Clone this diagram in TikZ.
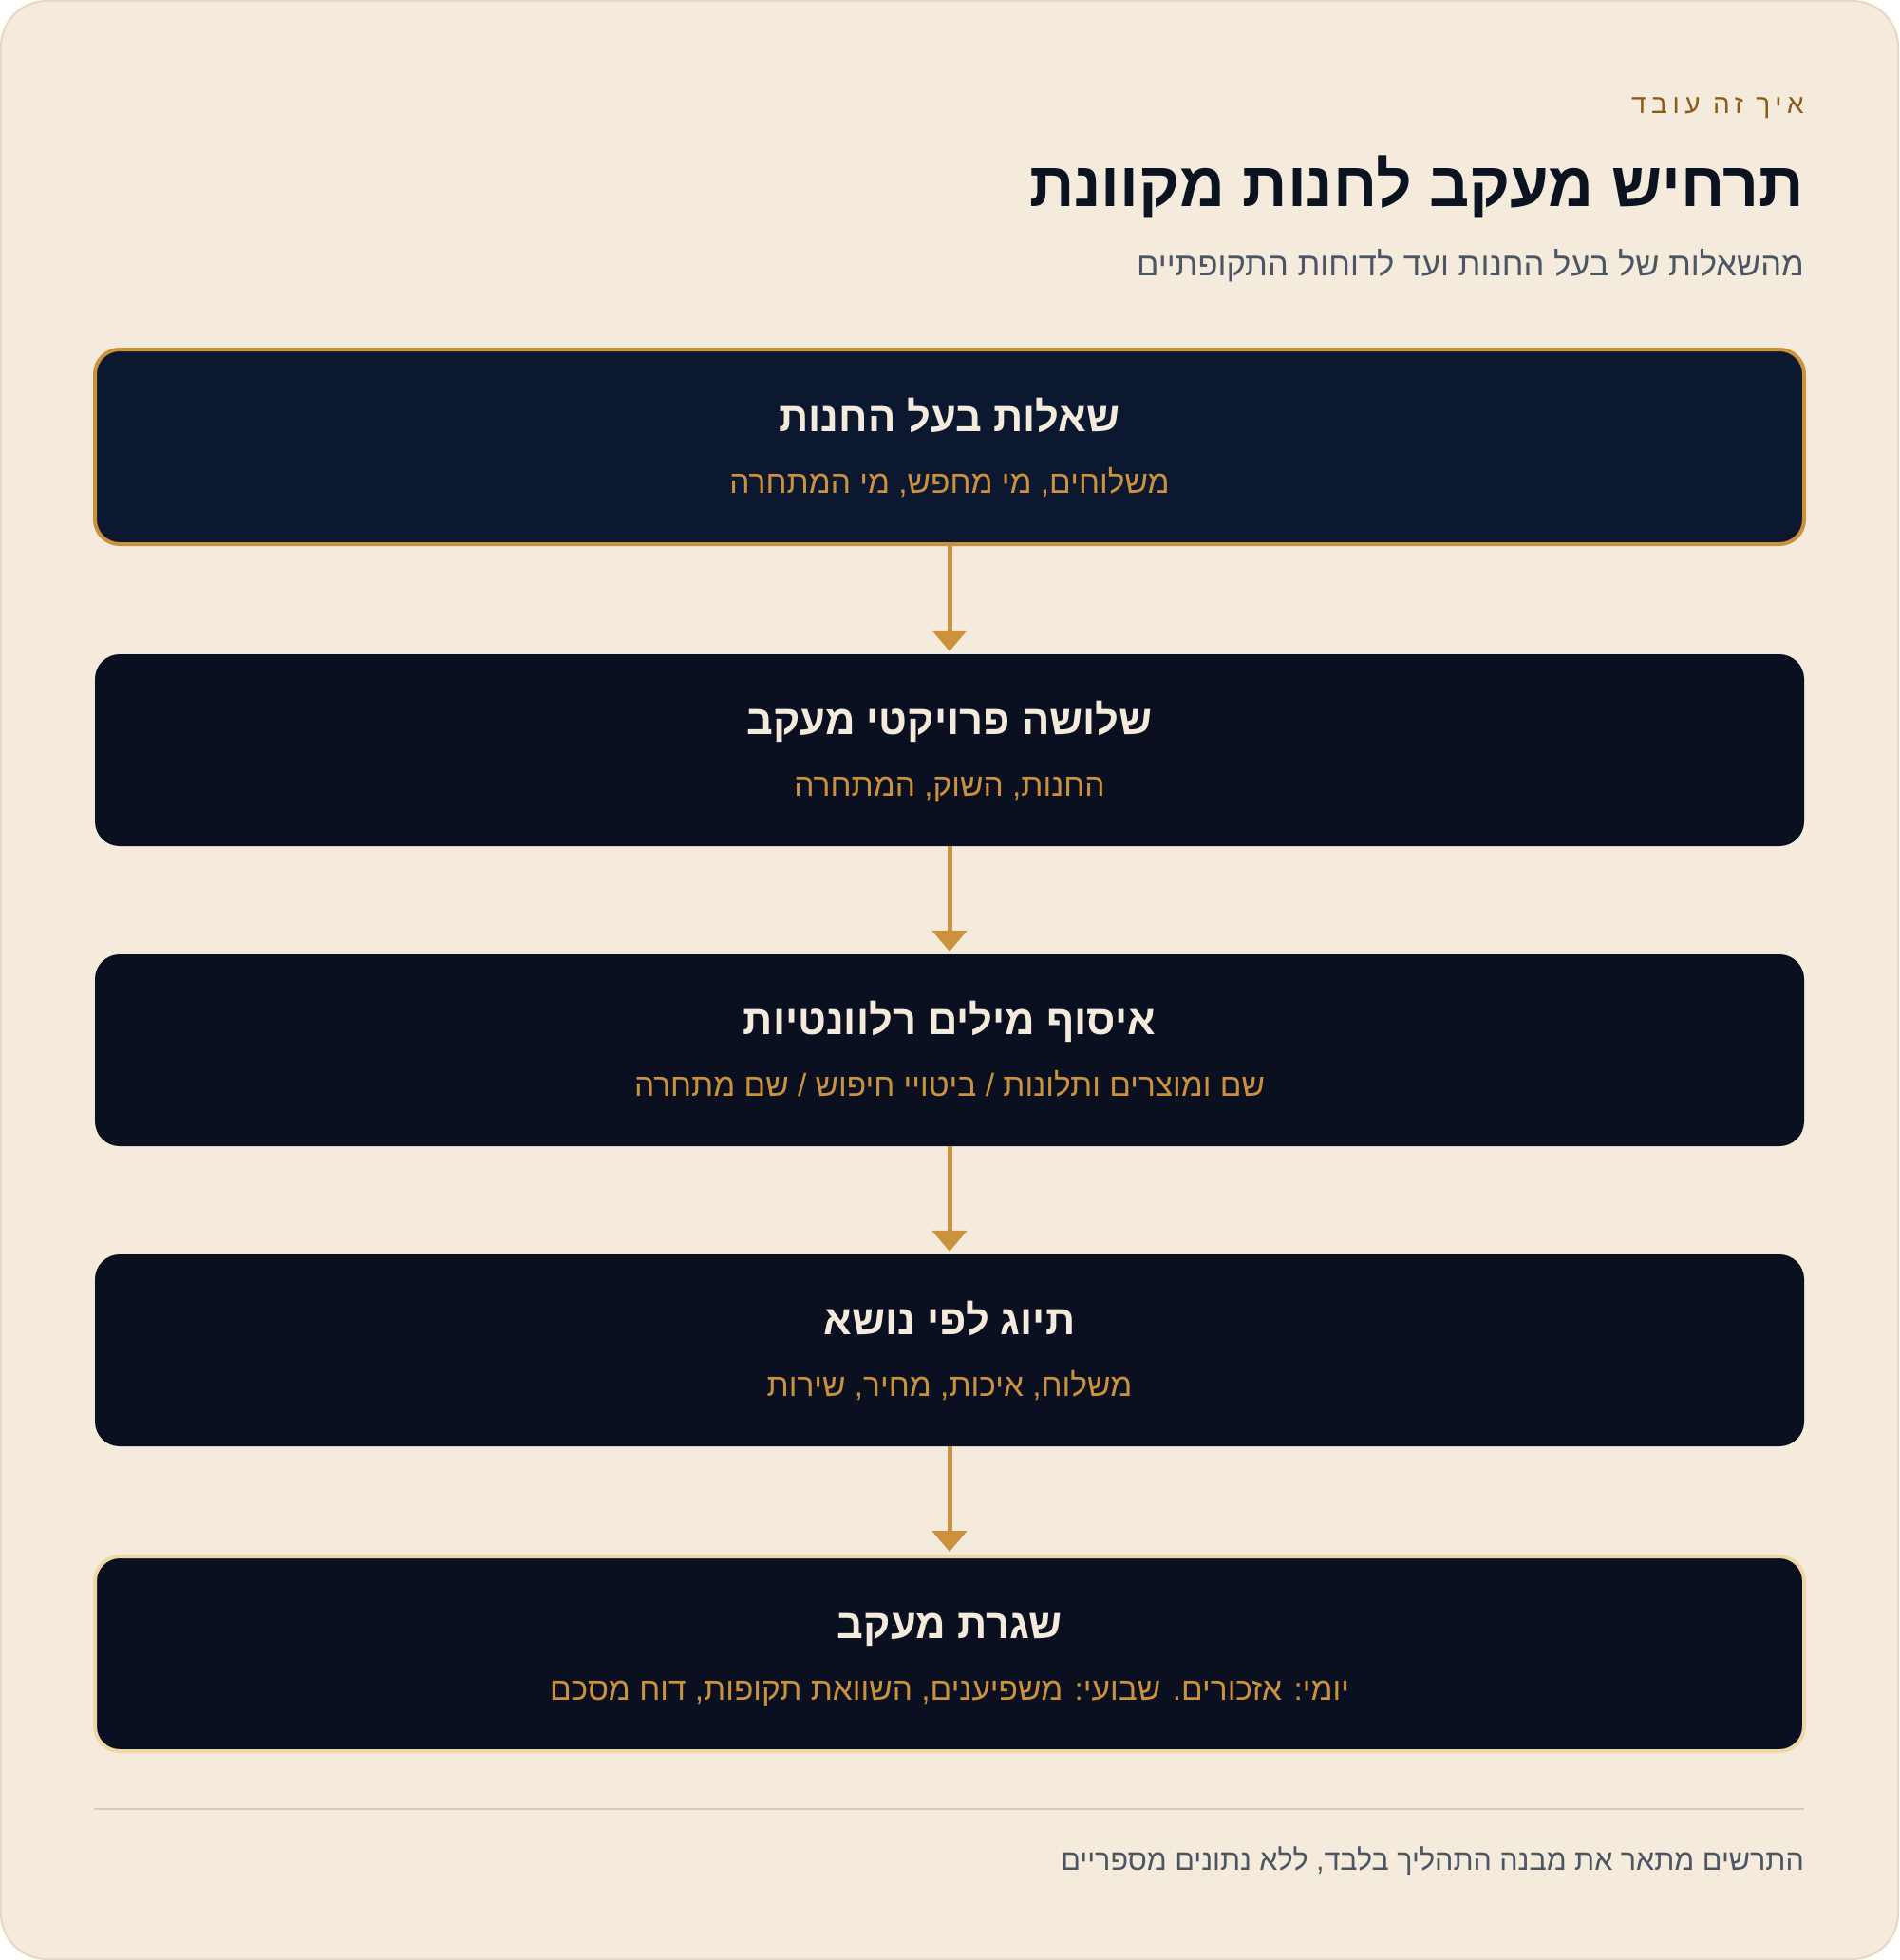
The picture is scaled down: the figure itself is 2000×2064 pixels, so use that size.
\documentclass[tikz,border=0pt]{standalone}
\usepackage{fontspec}
\setmainfont{Liberation Sans}
\TeXXeTstate=1
\newfontfamily\hebfont[Script=Hebrew]{Liberation Sans}
\newfontfamily\hebkick[Script=Hebrew,LetterSpace=20]{Liberation Sans}
\usetikzlibrary{arrows.meta}
\definecolor{pagebg}{HTML}{F4EBDC}
\definecolor{pageline}{HTML}{E6D9BF}
\definecolor{kickc}{HTML}{8B5A14}
\definecolor{titlec}{HTML}{0B1220}
\definecolor{grayc}{HTML}{4B5563}
\definecolor{navyA}{HTML}{0C1730}
\definecolor{navyB}{HTML}{0A1020}
\definecolor{goldc}{HTML}{CC913D}
\definecolor{creamc}{HTML}{F4EBDC}
\definecolor{paleg}{HTML}{F0D8A6}
\definecolor{sepc}{HTML}{D5CCBD}
\tikzset{
  stepbox/.style={draw=none, fill=navyB, rounded corners=26pt, minimum width=1800pt, minimum height=202pt, inner sep=0pt},
  btitle/.style={anchor=base, text=creamc, font=\hebfont\bfseries\fontsize{43.5}{52}\selectfont, inner sep=0pt},
  bsub/.style={anchor=base, text=goldc, font=\hebfont\fontsize{33.5}{40}\selectfont, inner sep=0pt},
  flow/.style={draw=goldc, line width=5pt, -{Triangle[length=22pt,width=36pt]}, shorten >=3pt},
}
\begin{document}
\begin{tikzpicture}[x=1pt,y=-1pt]
\useasboundingbox (0,0) rectangle (2000,2064);
\fill[white] (0,0) rectangle (2000,2064);
\draw[fill=pagebg, draw=pageline, line width=2pt, rounded corners=48pt] (1,1) rectangle (1999,2063);
% header
\node[anchor=base east, inner sep=0pt, text=kickc, font=\hebkick\fontsize{28}{32}\selectfont] (kick) at (1900,119) {\beginR איך זה עובד\endR};
\node[anchor=base east, inner sep=0pt, text=titlec, font=\hebfont\bfseries\fontsize{66}{76}\selectfont] (title) at (1900,217) {\beginR תרחיש מעקב לחנות מקוונת\endR};
\node[anchor=base east, inner sep=0pt, text=grayc, font=\hebfont\fontsize{34.5}{40}\selectfont] (sub) at (1900,290) {\beginR מהשאלות של בעל החנות ועד לדוחות התקופתיים\endR};
% boxes
\node[stepbox, fill=navyA, draw=goldc, line width=4pt, minimum height=205pt] (b1) at (1000,470.5) {};
\node[stepbox] (b2) at (1000,790) {};
\node[stepbox] (b3) at (1000,1106) {};
\node[stepbox] (b4) at (1000,1422) {};
\node[stepbox, draw=paleg, line width=4pt, minimum height=205pt] (b5) at (1000,1741.5) {};
% texts
\node[btitle] (b1t) at (1000,454) {\beginR שאלות בעל החנות\endR};
\node[bsub] (b1s) at (1000,519) {\beginR משלוחים, מי מחפש, מי המתחרה\endR};
\node[btitle] (b2t) at (1000,773) {\beginR שלושה פרויקטי מעקב\endR};
\node[bsub] (b2s) at (1000,838) {\beginR החנות, השוק, המתחרה\endR};
\node[btitle] (b3t) at (1000,1089) {\beginR איסוף מילים רלוונטיות\endR};
\node[bsub] (b3s) at (1000,1154) {\beginR שם ומוצרים ותלונות / ביטויי חיפוש / שם מתחרה\endR};
\node[btitle] (b4t) at (1000,1405) {\beginR תיוג לפי נושא\endR};
\node[bsub] (b4s) at (1000,1470) {\beginR משלוח, איכות, מחיר, שירות\endR};
\node[btitle] (b5t) at (1000,1725) {\beginR שגרת מעקב\endR};
\node[bsub] (b5s) at (1000,1790) {\beginR יומי: אזכורים. שבועי: משפיענים, השוואת תקופות, דוח מסכם\endR};
% connectors
\draw[flow] (b1.south) -- (b2.north);
\draw[flow] (b2.south) -- (b3.north);
\draw[flow] (b3.south) -- (b4.north);
\draw[flow] (b4.south) -- (b5.north);
% footer
\coordinate (sepL) at (99,1905);
\coordinate (sepR) at (1900,1905);
\draw[sepc, line width=2pt] (sepL) -- (sepR);
\node[anchor=base east, inner sep=0pt, text=grayc, font=\hebfont\fontsize{30.5}{36}\selectfont] (foot) at (1900,1969) {\beginR התרשים מתאר את מבנה התהליך בלבד, ללא נתונים מספריים\endR};
\end{tikzpicture}
\end{document}
